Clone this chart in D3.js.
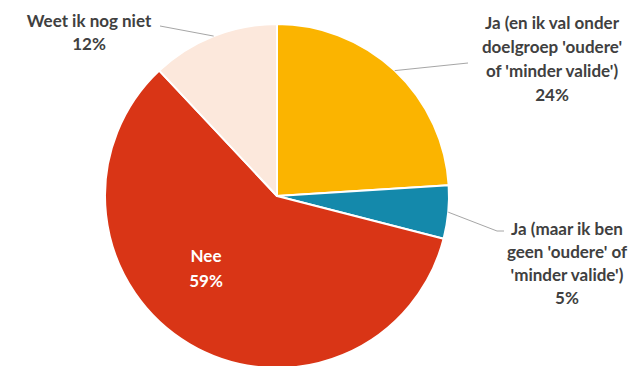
<!DOCTYPE html>
<html>
<head>
<meta charset="utf-8">
<script src="https://cdn.jsdelivr.net/npm/d3@7/dist/d3.min.js"></script>
<style>
  html, body { margin: 0; padding: 0; background: #fff; }
  svg { display: block; }
  text { font-family: "Lato", "Open Sans", sans-serif; font-weight: 700; }
</style>
</head>
<body>
<svg id="chart" width="635" height="366"></svg>
<script>
// Answer categories, clockwise from 12 o'clock
const categories = [
  "Ja (en ik val onder doelgroep 'oudere' of 'minder valide')",
  "Ja (maar ik ben geen 'oudere' of 'minder valide')",
  "Nee",
  "Weet ik nog niet"
];
const values = [24, 5, 59, 12];
const colors = ["#fbb400", "#1489ab", "#d93516", "#fce8dc"];

// Label text, one entry per line
const labelLines = [
  ["Ja (en ik val onder", "doelgroep 'oudere'", "of 'minder valide')", "24%"],
  ["Ja (maar ik ben", "geen 'oudere' of", "'minder valide')", "5%"],
  ["Nee", "59%"],
  ["Weet ik nog niet", "12%"]
];

const svg = d3.select("#chart");
const cx = 277, cy = 196, r = 172;

const data = categories.map((c, i) => ({ name: c, value: values[i], color: colors[i], lines: labelLines[i] }));

const pie = d3.pie().value(d => d.value).sort(null);
const arcs = pie(data);
const arc = d3.arc().innerRadius(0).outerRadius(r);

const g = svg.append("g").attr("transform", `translate(${cx},${cy})`);

g.selectAll("path.slice")
  .data(arcs)
  .join("path")
  .attr("class", "slice")
  .attr("d", arc)
  .attr("fill", d => d.data.color)
  .attr("stroke", "#fff")
  .attr("stroke-width", 2)
  .attr("stroke-linejoin", "round");

// Label layout: anchor point (centre x, first baseline), line height, text colour, leader end points
const layout = [
  { x: 552, y: 29, lh: 24, fill: "#404040", leader: [[468, 63]] },
  { x: 567, y: 235, lh: 23, fill: "#404040", leader: [[497, 231], [504, 231]] },
  { x: 206, y: 262, lh: 24.5, fill: "#ffffff", leader: null },
  { x: 89,  y: 27, lh: 23, fill: "#404040", leader: [[160, 26]] }
];

const midPoint = (d) => {
  const a = (d.startAngle + d.endAngle) / 2;
  return [cx + r * Math.sin(a), cy - r * Math.cos(a)];
};

arcs.forEach((d, i) => {
  const L = layout[i];
  if (L.leader) {
    const pts = [midPoint(d), ...L.leader];
    svg.append("path")
      .attr("d", d3.line()(pts))
      .attr("fill", "none")
      .attr("stroke", "#a6a6a6")
      .attr("stroke-width", 1);
  }
  const t = svg.append("text")
    .attr("text-anchor", "middle")
    .attr("font-size", 17)
    .attr("fill", L.fill);
  d.data.lines.forEach((line, j) => {
    t.append("tspan")
      .attr("x", L.x)
      .attr("y", L.y + j * L.lh)
      .text(line);
  });
});
</script>
</body>
</html>
